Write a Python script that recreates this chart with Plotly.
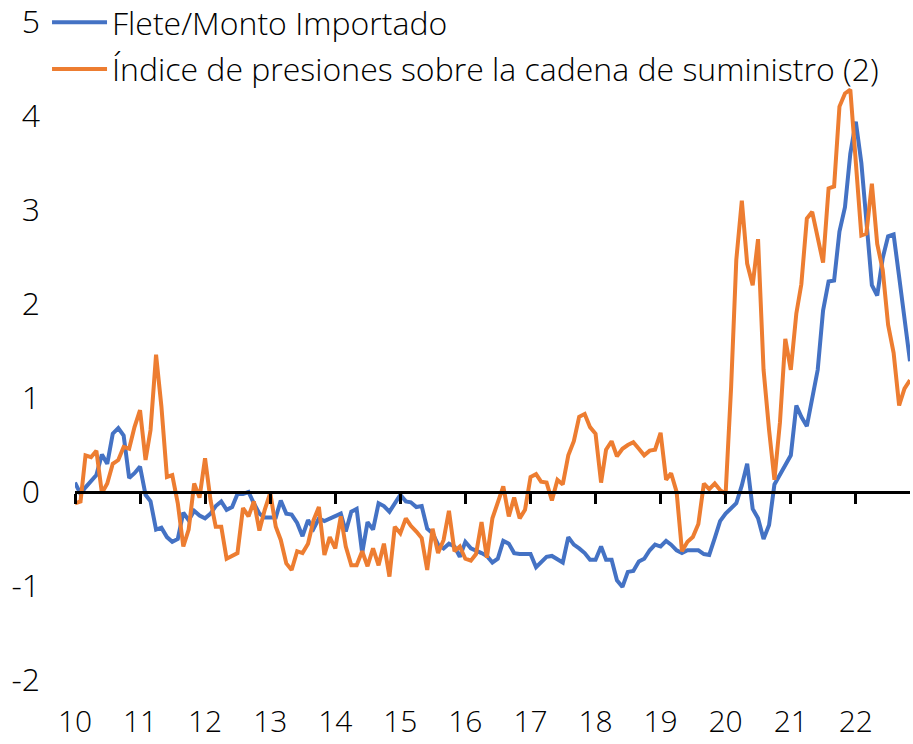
import pandas as pd
import plotly.graph_objects as go

# Monthly data, Jan 2010 - Nov 2022
start_month = "2010-01-01"
flete = [0.10, -0.02, 0.05, 0.12, 0.18, 0.40, 0.30, 0.62, 0.68, 0.60, 0.15, 0.20,
         0.27, -0.03, -0.10, -0.40, -0.38, -0.48, -0.53, -0.50, -0.22, -0.30, -0.20, -0.25,
         -0.28, -0.23, -0.15, -0.10, -0.19, -0.16, -0.02, -0.02, 0.00, -0.12, -0.23, -0.27,
         -0.27, -0.27, -0.09, -0.23, -0.24, -0.33, -0.47, -0.30, -0.39, -0.28, -0.31, -0.28,
         -0.26, -0.23, -0.42, -0.21, -0.18, -0.65, -0.32, -0.40, -0.12, -0.15, -0.21, -0.12,
         -0.03, -0.10, -0.11, -0.16, -0.15, -0.39, -0.44, -0.56, -0.60, -0.55, -0.58, -0.69,
         -0.53, -0.60, -0.62, -0.65, -0.68, -0.75, -0.71, -0.52, -0.55, -0.65, -0.66, -0.66,
         -0.66, -0.80, -0.75, -0.69, -0.68, -0.72, -0.75, -0.48, -0.56, -0.60, -0.65, -0.72,
         -0.72, -0.58, -0.72, -0.72, -0.94, -1.01, -0.85, -0.84, -0.74, -0.71, -0.62, -0.56,
         -0.58, -0.52, -0.56, -0.62, -0.65, -0.62, -0.62, -0.62, -0.66, -0.67, -0.49, -0.31,
         -0.23, -0.17, -0.12, 0.07, 0.30, -0.18, -0.28, -0.50, -0.35, 0.08, 0.19, 0.30,
         0.39, 0.92, 0.80, 0.70, 0.98, 1.30, 1.93, 2.24, 2.25, 2.77, 3.03, 3.60,
         3.94, 3.50, 2.89, 2.20, 2.09, 2.49, 2.72, 2.74, 2.29, 1.83, 1.39]

presiones = [-0.12, -0.10, 0.39, 0.37, 0.44, -0.01, 0.09, 0.30, 0.34, 0.48, 0.46, 0.69,
             0.87, 0.34, 0.66, 1.46, 0.91, 0.16, 0.18, -0.12, -0.58, -0.40, 0.09, -0.06,
             0.36, -0.09, -0.37, -0.37, -0.71, -0.68, -0.65, -0.17, -0.26, -0.10, -0.41, -0.19,
             -0.01, -0.37, -0.51, -0.76, -0.83, -0.63, -0.65, -0.55, -0.30, -0.16, -0.67, -0.48,
             -0.60, -0.26, -0.58, -0.78, -0.78, -0.63, -0.79, -0.60, -0.78, -0.55, -0.90, -0.37,
             -0.44, -0.28, -0.36, -0.42, -0.49, -0.83, -0.39, -0.65, -0.51, -0.20, -0.63, -0.58,
             -0.71, -0.73, -0.66, -0.32, -0.70, -0.28, -0.12, 0.06, -0.26, -0.06, -0.28, -0.19,
             0.16, 0.19, 0.11, 0.10, -0.09, 0.13, 0.08, 0.39, 0.54, 0.80, 0.83, 0.69,
             0.62, 0.10, 0.45, 0.54, 0.38, 0.46, 0.50, 0.53, 0.46, 0.39, 0.44, 0.45,
             0.63, 0.13, 0.20, 0.00, -0.63, -0.53, -0.48, -0.34, 0.09, 0.03, 0.09, 0.02,
             -0.02, 1.12, 2.47, 3.10, 2.43, 2.20, 2.69, 1.30, 0.66, 0.13, 0.74, 1.63,
             1.30, 1.90, 2.21, 2.91, 2.98, 2.71, 2.44, 3.23, 3.25, 4.10, 4.24, 4.28,
             3.53, 2.73, 2.75, 3.28, 2.64, 2.36, 1.78, 1.48, 0.92, 1.10, 1.19]

series_names = ["Flete/Monto Importado",
                "Índice de presiones sobre la cadena de suministro (2)"]
series_colors = ["#4472C4", "#ED7D31"]

years = list(range(2010, 2023))
year_labels = [str(y)[2:] for y in years]
y_ticks = [-2, -1, 0, 1, 2, 3, 4, 5]
y_tick_labels = ["-2", "-1", "0", "1", "2", "3", "4", "5"]

dates = pd.date_range(start_month, periods=len(flete), freq="MS")
year_starts = [pd.Timestamp(f"{y}-01-01") for y in years]
x_range = [dates[0], dates[-1]]
y_range = [-2, 5]

FONT = "Open Sans"
FS = 32
fig = go.Figure()
for i, (name, vals, col) in enumerate(zip(series_names, [flete, presiones], series_colors)):
    fig.add_trace(go.Scatter(x=dates, y=vals, mode="lines", name=name,
                             legendgroup=f"g{i}",
                             line=dict(color=col, width=4)))
# invisible helper trace so the zero-line axis is drawn
fig.add_trace(go.Scatter(x=[dates[0]], y=[0], mode="lines", xaxis="x2",
                         showlegend=False, hoverinfo="skip",
                         line=dict(color="rgba(0,0,0,0)")))

zero_pos = (0 - y_range[0]) / (y_range[1] - y_range[0])

fig.update_layout(
    width=913, height=744,
    margin=dict(l=75, r=3, t=22, b=64, autoexpand=False),
    paper_bgcolor="white", plot_bgcolor="white",
    font=dict(family=FONT, size=FS, color="#000000", weight=300),
    showlegend=True,
    legend=dict(x=-0.0335, y=1.041, xanchor="left", yanchor="top",
                bgcolor="rgba(0,0,0,0)", font=dict(size=FS, weight=300),
                tracegroupgap=2, itemwidth=55),
    xaxis=dict(range=x_range, tickvals=year_starts, ticktext=year_labels,
               showgrid=False, zeroline=False, showline=False, ticks="",
               ticklabelstandoff=21, automargin=False,
               tickfont=dict(size=30), ticklabeloverflow="allow"),
    xaxis2=dict(range=x_range, overlaying="x", anchor="free", position=zero_pos,
                side="bottom", tickvals=year_starts, showticklabels=False,
                showgrid=False, zeroline=False, showline=True,
                linecolor="black", linewidth=2.5, ticks="outside",
                ticklen=10, tickwidth=2.5, tickcolor="black"),
    yaxis=dict(range=y_range, tickvals=y_ticks, ticktext=y_tick_labels,
               showgrid=False, zeroline=False,
               showline=False, ticks="", ticklabelstandoff=34, automargin=False,
               ticklabeloverflow="allow"),
)

fig.write_html("out.html", config={"displayModeBar": False},
               post_script="document.body.style.margin='0';")
